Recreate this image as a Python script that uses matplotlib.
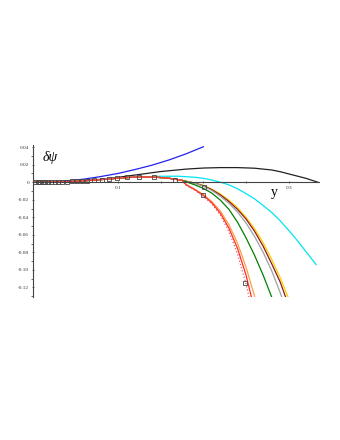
import numpy as np
import matplotlib
matplotlib.use("Agg")
import matplotlib.pyplot as plt

plt.rcParams['font.family'] = ['Liberation Serif', 'DejaVu Serif']

# shared early part of the curves (y, delta psi)
x_common = [0.0, 0.02, 0.04, 0.06, 0.08, 0.10, 0.115, 0.13, 0.145, 0.16, 0.175]
y_common = [0.0, 0.0002, 0.0007, 0.0016, 0.0030, 0.0046, 0.0056, 0.0060, 0.0057, 0.0045, 0.0022]

x_blue = [0.0, 0.02, 0.04, 0.06, 0.08, 0.10, 0.12, 0.14, 0.16, 0.18, 0.20]
y_blue = [0.0, 0.0004, 0.0016, 0.0035, 0.0065, 0.0100, 0.0145, 0.0195, 0.0255, 0.0325, 0.0405]

x_black = [0.0, 0.02, 0.04, 0.06, 0.08, 0.10, 0.12, 0.15, 0.18, 0.20, 0.22, 0.24, 0.26,
           0.28, 0.29, 0.30, 0.31, 0.32, 0.334]
y_black = [0.0, 0.0002, 0.0008, 0.0018, 0.0034, 0.0056, 0.0082, 0.0122, 0.0150, 0.0162,
           0.0167, 0.0167, 0.0160, 0.0140, 0.0120, 0.0095, 0.0070, 0.0045, 0.0]

# cyan starts where the shared part ends at 0.13
x_cyan = [0.0, 0.02, 0.04, 0.06, 0.08, 0.10, 0.115, 0.13, 0.15, 0.17, 0.19, 0.20, 0.21,
          0.22, 0.23, 0.24, 0.25, 0.26, 0.27, 0.28, 0.29, 0.30, 0.31, 0.32, 0.332]
y_cyan = [0.0, 0.0002, 0.0007, 0.0016, 0.0030, 0.0046, 0.0056, 0.0062, 0.0068, 0.0069,
          0.0057, 0.0045, 0.0025, 0.0, -0.003, -0.0075, -0.013, -0.019, -0.0265, -0.0345,
          -0.044, -0.055, -0.0665, -0.079, -0.094]

x_tail_red = [0.18, 0.19, 0.20, 0.21, 0.22, 0.23, 0.24, 0.25, 0.26]
y_tail_red = [-0.003, -0.0085, -0.0150, -0.0235, -0.0355, -0.0525, -0.0755, -0.1060, -0.146]

x_tail_dot = [0.18, 0.19, 0.20, 0.21, 0.22, 0.23, 0.24, 0.25, 0.26]
y_tail_dot = [-0.0035, -0.009, -0.016, -0.025, -0.0375, -0.0565, -0.082, -0.116, -0.16]

x_tail_orange = [0.18, 0.19, 0.20, 0.21, 0.22, 0.23, 0.24, 0.25, 0.26, 0.27]
y_tail_orange = [-0.0025, -0.008, -0.014, -0.022, -0.033, -0.0485, -0.0695, -0.097, -0.130, -0.17]

x_tail_green = [0.19, 0.20, 0.21, 0.22, 0.23, 0.24, 0.25, 0.26, 0.27, 0.28, 0.29]
y_tail_green = [-0.003, -0.007, -0.0125, -0.0205, -0.031, -0.0455, -0.0635, -0.0835,
                -0.106, -0.131, -0.16]

x_tail_gray = [0.19, 0.20, 0.21, 0.22, 0.23, 0.24, 0.25, 0.26, 0.27, 0.28, 0.29, 0.30]
y_tail_gray = [-0.0012, -0.0045, -0.0095, -0.016, -0.024, -0.034, -0.0465, -0.062, -0.080,
               -0.101, -0.126, -0.154]

x_tail_brown = [0.19, 0.20, 0.21, 0.22, 0.23, 0.24, 0.25, 0.26, 0.27, 0.28, 0.29, 0.30]
y_tail_brown = [-0.001, -0.004, -0.0085, -0.0145, -0.022, -0.031, -0.042, -0.056, -0.073,
                -0.093, -0.114, -0.141]

x_tail_yellow = [0.19, 0.20, 0.21, 0.22, 0.23, 0.24, 0.25, 0.26, 0.27, 0.28, 0.29, 0.30, 0.31]
y_tail_yellow = [-0.0008, -0.0035, -0.008, -0.0135, -0.0205, -0.029, -0.040, -0.053, -0.069,
                 -0.088, -0.109, -0.133, -0.16]

# open square markers
x_sq = [0.003, 0.006, 0.009, 0.012, 0.015, 0.018, 0.022, 0.026, 0.030, 0.035, 0.040, 0.046,
        0.052, 0.058, 0.064, 0.072, 0.081, 0.090, 0.099, 0.111, 0.125, 0.142, 0.167, 0.201,
        0.200, 0.249]
y_sq = [0.0, 0.0, 0.0, 0.0001, 0.0001, 0.0002, 0.0002, 0.0003, 0.0004, 0.0005, 0.0007, 0.0009,
        0.0012, 0.0015, 0.0019, 0.0024, 0.0031, 0.0039, 0.0052, 0.0058, 0.0061, 0.0058, 0.0022,
        -0.0060, -0.0147, -0.1150]

bundle = [
    (x_tail_yellow, y_tail_yellow, "#ffcc00", "-"),
    (x_tail_brown, y_tail_brown, "#8b1a1a", "-"),
    (x_tail_gray, y_tail_gray, "#a0a0a0", "-"),
    (x_tail_green, y_tail_green, "#008000", "-"),
    (x_tail_orange, y_tail_orange, "#ffa040", "-"),
    (x_tail_red, y_tail_red, "#ff2a2a", "-"),
    (x_tail_dot, y_tail_dot, "#e06070", ":"),
]

fig = plt.figure(figsize=(3.4, 4.4), dpi=100)
ax = fig.add_axes([32.5 / 340, (440 - 297) / 440, (319.5 - 32.5) / 340, (297 - 145) / 440])

ax.plot(x_black, y_black, color="#222222", lw=0.9)
ax.plot(x_blue, y_blue, color="#2222ee", lw=0.9)
ax.plot(x_cyan, y_cyan, color="#00e5ee", lw=0.9)
for xt, yt, c, ls in bundle:
    ax.plot(x_common + xt, y_common + yt, color=c, lw=0.9, ls=ls)

ax.plot(x_sq, y_sq, ls="none", marker="s", ms=3.0, mfc="none", mec="#444444", mew=0.6)

ax.set_xlim(0, 0.336)
ax.set_ylim(-0.131, 0.0425)

for s in ["top", "right"]:
    ax.spines[s].set_visible(False)
ax.spines["bottom"].set_position(("data", 0))
ax.spines["left"].set_position(("data", 0))
for s in ["bottom", "left"]:
    ax.spines[s].set_color("#444444")
    ax.spines[s].set_linewidth(0.8)

ax.set_xticks([0.05, 0.1, 0.15, 0.2, 0.25, 0.3])
ax.set_xticklabels(["", "0.1", "", "", "", "0.3"])
ax.set_yticks([0.04, 0.02, 0.0, -0.02, -0.04, -0.06, -0.08, -0.10, -0.12])
ax.set_yticklabels(["0.04", "0.02", "0", "-0.02", "-0.04", "-0.06", "-0.08", "-0.10", "-0.12"])
ax.set_yticks(np.arange(-0.13, 0.041, 0.01), minor=True)
ax.tick_params(axis="both", labelsize=3.8, length=2, width=0.5, pad=1.5, colors="#333333",
               direction="inout")
ax.tick_params(axis="y", which="minor", length=1.2, width=0.4, direction="out")

ax.text(0.0115, 0.028, "δψ", fontsize=10, style="italic", ha="left", va="center")
ax.text(0.2836, -0.0115, "y", fontsize=10, ha="center", va="center")

fig.savefig("out.png", dpi=100)
